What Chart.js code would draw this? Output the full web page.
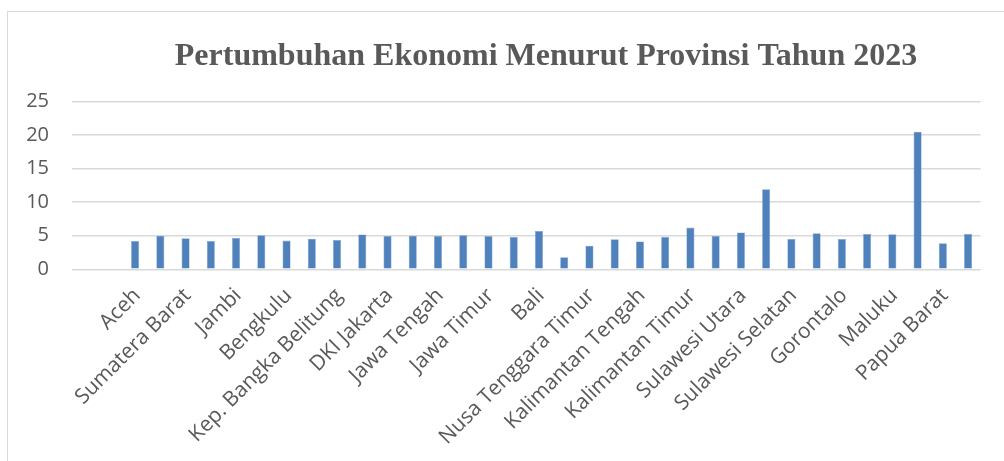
<!DOCTYPE html>
<html>
<head>
<meta charset="utf-8">
<script src="https://cdn.jsdelivr.net/npm/chart.js@4.4.1/dist/chart.umd.min.js"></script>
<style>
  html, body { margin: 0; padding: 0; background: #fff; overflow: hidden; width: 1004px; height: 461px; }
  .box {
    position: absolute; left: 7px; top: 11px; width: 1076px; height: 460px;
    border-left: 1.5px solid #d9d9d9; border-top: 1.5px solid #d9d9d9;
  }
  .box canvas { position: absolute; left: 0; top: 0; }
</style>
</head>
<body>
<div class="box"><canvas id="c" width="1076" height="449"></canvas></div>
<script>
// provinsi (2 kategori kosong di depan, seperti di grafik asli)
const provinsi = [
  '', '',
  'Aceh', 'Sumatera Utara', 'Sumatera Barat', 'Riau', 'Jambi', 'Sumatera Selatan',
  'Bengkulu', 'Lampung', 'Kep. Bangka Belitung', 'Kep. Riau', 'DKI Jakarta', 'Jawa Barat',
  'Jawa Tengah', 'DI Yogyakarta', 'Jawa Timur', 'Banten', 'Bali', 'Nusa Tenggara Barat',
  'Nusa Tenggara Timur', 'Kalimantan Barat', 'Kalimantan Tengah', 'Kalimantan Selatan',
  'Kalimantan Timur', 'Kalimantan Utara', 'Sulawesi Utara', 'Sulawesi Tengah',
  'Sulawesi Selatan', 'Sulawesi Tenggara', 'Gorontalo', 'Sulawesi Barat', 'Maluku',
  'Maluku Utara', 'Papua Barat', 'Papua'
];
const pertumbuhan = [
  null, null,
  4.23, 5.01, 4.62, 4.21, 4.66, 5.08,
  4.28, 4.55, 4.38, 5.20, 4.96, 5.00,
  4.98, 5.07, 4.95, 4.81, 5.71, 1.80,
  3.52, 4.46, 4.14, 4.84,
  6.22, 4.94, 5.48, 11.91,
  4.51, 5.35, 4.50, 5.25, 5.21,
  20.49, 3.88, 5.25
];
const yTicks = [0, 5, 10, 15, 20, 25];

const grey = '#595959';
const W = 1076, H = 449;
const plotLeft = 64, plotBottom = 257.3, plotRight = 972.7;

new Chart(document.getElementById('c'), {
  type: 'bar',
  data: {
    labels: provinsi,
    datasets: [{
      data: pertumbuhan,
      backgroundColor: '#4f81bd',
      borderColor: '#7fa3d0',
      borderWidth: 0.6,
      categoryPercentage: 1,
      barPercentage: 0.32
    }]
  },
  options: {
    responsive: false,
    animation: false,
    layout: { padding: 0 },
    plugins: {
      legend: { display: false },
      tooltip: { enabled: false },
      title: {
        display: true,
        text: 'Pertumbuhan Ekonomi Menurut Provinsi Tahun 2023',
        color: grey,
        font: { family: '"Liberation Serif", "Times New Roman", serif', size: 32, weight: 'bold' },
        padding: { top: 26, bottom: 25 }
      }
    },
    scales: {
      x: {
        grid: { display: false, drawTicks: false },
        border: { display: false },
        ticks: {
          autoSkip: false,
          minRotation: 45, maxRotation: 45,
          color: grey,
          padding: 14,
          labelOffset: 2,
          font: { family: '"Open Sans", sans-serif', size: 21 },
          callback: (v, i) => (i % 2 === 0 ? provinsi[i] : '')
        },
        afterFit: s => { s.height = H - plotBottom; }
      },
      y: {
        min: 0, max: 25,
        afterBuildTicks: s => { s.ticks = yTicks.map(v => ({ value: v })); },
        grid: { color: '#d9d9d9', lineWidth: 1.5, drawTicks: false },
        border: { display: false },
        ticks: {
          color: grey,
          padding: 23,
          font: { family: '"Open Sans", sans-serif', size: 20 }
        },
        afterFit: s => { s.width = plotLeft; }
      },
      // ruang kosong di kanan area plot
      yKanan: {
        position: 'right',
        grid: { display: false, drawTicks: false },
        border: { display: false },
        ticks: { display: false },
        afterFit: s => { s.width = W - plotRight; }
      }
    }
  }
});
</script>
</body>
</html>
